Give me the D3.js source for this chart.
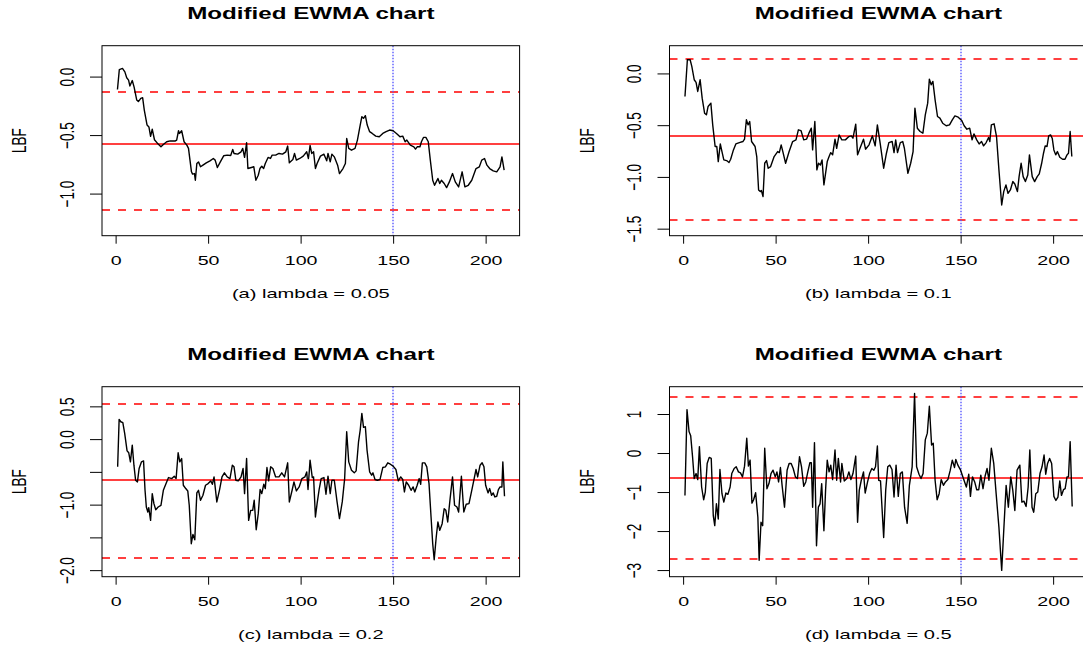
<!DOCTYPE html>
<html>
<head>
<meta charset="utf-8">
<script src="https://cdn.jsdelivr.net/npm/d3@7"></script>
<style>
  body { margin: 0; background: #fff; }
  svg { display: block; font-family: "Liberation Sans", Arial, Helvetica, sans-serif; }
</style>
</head>
<body>
<svg id="chart" width="1083" height="648"></svg>
<script>
// values: [t, LBF]
var lbfA = [[1,-0.11],[2,0.06],[3.7,0.07],[5,0.04],[6,-0.01],[7,-0.03],[7.7,-0.08],[9,-0.034],[10,-0.09],[11.4,-0.2],[12.3,-0.214],[13.6,-0.186],[14.6,-0.18],[15.5,-0.286],[17,-0.414],[18,-0.43],[18.9,-0.51],[19.8,-0.45],[21,-0.54],[23,-0.577],[24.5,-0.6],[25.8,-0.58],[27.6,-0.557],[29.5,-0.55],[32.3,-0.55],[33,-0.543],[34,-0.463],[34.5,-0.486],[35.7,-0.463],[37,-0.557],[38.5,-0.586],[39.4,-0.614],[40.2,-0.714],[41,-0.814],[41.6,-0.834],[42.6,-0.829],[43.1,-0.886],[43.9,-0.743],[44.8,-0.729],[45.9,-0.771],[47.2,-0.757],[49,-0.737],[51,-0.72],[52.8,-0.7],[53.8,-0.714],[55,-0.777],[56.6,-0.729],[58.4,-0.677],[60.3,-0.671],[62.2,-0.674],[63.3,-0.623],[64,-0.657],[66,-0.663],[67.8,-0.643],[68.7,-0.614],[69.7,-0.69],[70.8,-0.566],[71.5,-0.786],[73.4,-0.777],[74.7,-0.771],[75.8,-0.886],[77.1,-0.843],[78,-0.786],[79,-0.766],[80,-0.786],[80.9,-0.743],[82.4,-0.691],[83.7,-0.7],[84.6,-0.671],[86.5,-0.671],[88.3,-0.657],[90.2,-0.663],[92,-0.643],[93,-0.594],[93.9,-0.737],[95.8,-0.709],[96.7,-0.657],[97.7,-0.714],[99.5,-0.7],[101.4,-0.68],[103.3,-0.643],[104.2,-0.7],[105.1,-0.589],[106,-0.657],[107,-0.643],[108,-0.786],[108.9,-0.743],[110.7,-0.68],[112.6,-0.663],[114.1,-0.72],[114.8,-0.657],[116,-0.729],[116.9,-0.663],[118.2,-0.686],[120,-0.757],[121,-0.829],[122.9,-0.786],[124.2,-0.743],[124.9,-0.529],[126,-0.614],[127.5,-0.629],[129.4,-0.614],[130.7,-0.543],[132.2,-0.414],[133.1,-0.343],[134,-0.357],[135,-0.334],[136,-0.414],[137.3,-0.471],[138.7,-0.486],[140.6,-0.509],[142.5,-0.514],[144.4,-0.486],[146.2,-0.471],[148.1,-0.457],[150,-0.463],[151.8,-0.486],[153.7,-0.514],[155.2,-0.509],[156.5,-0.557],[157.4,-0.543],[159.3,-0.586],[161.2,-0.6],[162.1,-0.62],[163,-0.6],[164.5,-0.6],[165.3,-0.557],[166.4,-0.52],[167.7,-0.52],[169,-0.557],[170.1,-0.714],[171.4,-0.886],[172.4,-0.929],[173.3,-0.9],[174.2,-0.871],[175.2,-0.914],[176.1,-0.886],[177.6,-0.914],[178.9,-0.949],[180.4,-0.9],[182.1,-0.829],[183.6,-0.9],[185.4,-0.943],[187.3,-0.814],[188.8,-0.943],[190.6,-0.929],[192.5,-0.886],[194.8,-0.786],[196.6,-0.771],[197.9,-0.714],[199.4,-0.7],[200.7,-0.757],[202.2,-0.786],[204.1,-0.806],[206,-0.814],[207.8,-0.771],[208.8,-0.686],[210,-0.8]];

var lbfB = [[1,-0.223],[2.3,0.132],[3.8,0.132],[4.7,0.068],[6,-0.061],[7,-0.087],[7.9,-0.174],[9.2,-0.061],[10.3,-0.239],[11.6,-0.384],[12.6,-0.4],[13.5,-0.319],[15,-0.287],[16,-0.497],[17.3,-0.706],[18.2,-0.706],[19,-0.852],[20.1,-0.681],[21,-0.755],[22,-0.835],[23.5,-0.842],[24.8,-0.861],[25.7,-0.829],[27.2,-0.739],[28.5,-0.681],[30.4,-0.668],[32.3,-0.658],[33.2,-0.635],[34.2,-0.448],[35.1,-0.497],[36,-0.465],[37,-0.658],[38.9,-0.706],[39.8,-0.803],[40.8,-1.126],[41.7,-1.142],[42.3,-1.132],[43.2,-1.19],[44.1,-0.868],[45.1,-0.842],[46,-0.916],[47.3,-0.9],[49.2,-0.803],[51.1,-0.755],[52,-0.765],[53,-0.69],[53.9,-0.755],[55.4,-0.868],[57.3,-0.755],[59.2,-0.658],[61,-0.642],[62.3,-0.545],[63.7,-0.552],[65.2,-0.642],[66.7,-0.635],[68,-0.577],[69.3,-0.529],[70,-0.739],[71.2,-0.465],[72.3,-0.932],[73.2,-0.868],[74.2,-0.884],[75.1,-0.835],[76.1,-1.077],[77,-0.965],[77.9,-0.852],[78.9,-0.803],[79.8,-0.765],[80.8,-0.787],[82.1,-0.635],[83,-0.723],[84.3,-0.594],[85.8,-0.642],[87.7,-0.642],[89.6,-0.61],[90.9,-0.603],[91.8,-0.626],[93.3,-0.49],[94.3,-0.787],[95.6,-0.723],[97.5,-0.635],[98.6,-0.732],[100.5,-0.69],[102.3,-0.603],[103.8,-0.7],[105,-0.497],[106.5,-0.674],[108.4,-0.916],[109.9,-0.771],[111.2,-0.668],[113,-0.658],[114,-0.765],[114.9,-0.642],[115.9,-0.765],[117.4,-0.668],[118.7,-0.658],[119.6,-0.723],[121.5,-0.965],[123,-0.868],[124.3,-0.755],[125.3,-0.335],[126.6,-0.529],[128.1,-0.561],[129.6,-0.577],[130.9,-0.4],[132.2,-0.287],[133.1,-0.055],[134.1,-0.11],[135,-0.077],[136.2,-0.255],[137.5,-0.416],[138.8,-0.432],[140.3,-0.481],[142.2,-0.506],[144,-0.497],[145.5,-0.448],[146.9,-0.41],[148.7,-0.423],[150.6,-0.455],[151.9,-0.506],[153.4,-0.539],[154.9,-0.529],[156.2,-0.642],[157.2,-0.584],[158.7,-0.642],[160,-0.681],[161.3,-0.658],[162.4,-0.7],[163.8,-0.668],[165.1,-0.619],[165.8,-0.658],[166.6,-0.497],[168.1,-0.487],[169.4,-0.61],[170.7,-0.932],[172.2,-1.271],[173.3,-1.142],[174.5,-1.077],[175.6,-1.158],[176.9,-1.126],[178.2,-1.045],[179.3,-1.068],[180.7,-1.142],[181.6,-0.997],[182.7,-0.868],[183.8,-0.997],[185,-1.045],[186.3,-0.981],[187.2,-0.787],[188.7,-0.997],[190,-1.045],[191.4,-0.997],[192.5,-0.971],[193.8,-0.868],[194.8,-0.771],[195.7,-0.7],[196.7,-0.706],[197.6,-0.603],[198.6,-0.594],[199.5,-0.626],[200.4,-0.739],[201.4,-0.787],[202.3,-0.755],[203.6,-0.81],[205.1,-0.829],[206.4,-0.829],[207.5,-0.787],[208.3,-0.771],[209.2,-0.561],[210.1,-0.803]];

var lbfC = [[1.1,-0.423],[1.9,0.301],[2.8,0.265],[3.9,0.25],[4.9,0.087],[6.2,-0.179],[7.1,-0.209],[8,-0.347],[9,-0.092],[9.9,-0.398],[10.8,-0.628],[11.8,-0.653],[12.7,-0.449],[14,-0.347],[15.1,-0.332],[15.9,-0.781],[16.6,-1.036],[17.4,-1.112],[17.9,-1.046],[18.9,-1.24],[19.8,-0.832],[20.7,-0.985],[21.7,-1.077],[23,-1.036],[24.5,-1.01],[25.8,-0.781],[27.1,-0.689],[28.6,-0.587],[30.4,-0.602],[31.7,-0.566],[32.7,-0.602],[33.8,-0.209],[34.7,-0.347],[35.7,-0.296],[36.6,-0.704],[37.9,-0.755],[39,-0.791],[39.8,-1.01],[40.9,-1.597],[41.8,-1.454],[42.8,-1.536],[43.9,-0.821],[44.8,-0.781],[45.9,-0.934],[47.2,-0.857],[48.6,-0.704],[50,-0.679],[51.4,-0.638],[52.3,-0.689],[53.2,-0.577],[54.7,-0.959],[56.2,-0.77],[57.5,-0.577],[58.8,-0.515],[60.3,-0.577],[61.8,-0.602],[63.1,-0.398],[64,-0.423],[65,-0.628],[66.3,-0.638],[67.8,-0.577],[68.9,-0.449],[69.7,-0.832],[70.8,-0.296],[71.9,-1.24],[73,-1.087],[74.1,-1.087],[74.9,-0.934],[76,-1.383],[77.1,-1.138],[78.1,-0.77],[79,-0.832],[80.1,-0.689],[80.9,-0.755],[81.8,-0.434],[82.7,-0.638],[83.8,-0.423],[85,-0.449],[86.5,-0.577],[88.3,-0.577],[89.8,-0.515],[91.3,-0.577],[93,-0.362],[93.9,-0.959],[95.4,-0.781],[96.4,-0.653],[97.7,-0.791],[99.2,-0.73],[100.7,-0.602],[102.3,-0.577],[103.3,-0.5],[104,-0.77],[105.1,-0.321],[106.3,-0.587],[107,-0.577],[108,-1.189],[108.9,-0.985],[110,-0.77],[111.1,-0.602],[112.6,-0.587],[113.7,-0.842],[114.8,-0.566],[116,-0.832],[116.9,-0.628],[118.2,-0.628],[119.7,-0.959],[121,-1.214],[122.5,-0.959],[123.8,-0.602],[124.9,0.112],[126,-0.347],[127.5,-0.474],[129,-0.515],[130,-0.485],[131.3,-0.041],[132.2,0.138],[133.1,0.393],[134,0.179],[135,0.189],[135.9,-0.168],[137.3,-0.5],[138.4,-0.551],[139.1,-0.515],[140.2,-0.617],[141.5,-0.628],[142.9,-0.617],[144.4,-0.434],[145.8,-0.423],[147.1,-0.362],[148.5,-0.383],[150,-0.413],[151.5,-0.464],[152.8,-0.638],[154.1,-0.577],[155.2,-0.617],[156.1,-0.806],[157.1,-0.653],[158.4,-0.704],[159.7,-0.781],[160.8,-0.73],[161.7,-0.806],[163,-0.704],[164.1,-0.602],[164.9,-0.689],[165.8,-0.362],[167.1,-0.362],[168.2,-0.423],[169.4,-0.679],[170.5,-1.189],[171.4,-1.597],[172.2,-1.842],[173.3,-1.495],[174.2,-1.265],[175.2,-1.393],[176.5,-1.291],[177.6,-1.061],[178.5,-1.087],[179.5,-1.265],[180.8,-0.908],[182.1,-0.577],[183.2,-1.01],[184.5,-1.036],[185.4,-1.112],[186.9,-0.566],[188.2,-1.112],[189.5,-0.995],[191,-0.985],[192.5,-0.781],[193.8,-0.602],[194.8,-0.464],[195.7,-0.577],[197,-0.398],[198.1,-0.362],[199.1,-0.423],[200,-0.704],[201.3,-0.821],[202.2,-0.755],[203.2,-0.857],[204.1,-0.821],[205,-0.883],[206,-0.872],[206.9,-0.77],[207.8,-0.73],[208.8,-0.73],[209.3,-0.347],[210.2,-0.872]];

var lbfD = [[1,-1.086],[2.1,1.112],[3.2,0.552],[4.1,0.44],[5.1,-0.095],[6,-0.655],[7,-0.526],[7.9,-0.681],[8.8,0.164],[10,-0.871],[11.1,-1.198],[12,-1.0],[13,-0.267],[14.1,-0.112],[15.2,-0.138],[16.3,-1.603],[17.1,-1.862],[18,-1.302],[19,-1.69],[19.9,-0.422],[21,-1.043],[22,-1.259],[23.1,-1.026],[24.2,-1.06],[25.4,-0.871],[26.3,-0.526],[27.6,-0.397],[28.7,-0.353],[29.9,-0.483],[31,-0.509],[32.1,-0.612],[33.2,-0.336],[34.4,0.379],[35.3,-0.336],[36.2,-0.181],[37.2,-1.284],[38.1,-1.198],[39.2,-1.017],[40.4,-1.647],[41.1,-2.75],[42.1,-1.776],[43,-1.862],[44.1,0.121],[45.3,-0.914],[46.4,-0.784],[47.5,-0.526],[48.6,-0.44],[49.8,-0.612],[50.7,-0.483],[51.6,-0.741],[52.6,-0.371],[53.5,-0.828],[54.8,-1.388],[56.2,-0.44],[57.3,-0.267],[58.4,-0.267],[59.5,-0.397],[60.7,-0.612],[61.8,-0.655],[62.9,-0.095],[64,-0.353],[65.2,-0.853],[66.3,-0.741],[67.4,-0.483],[68.5,-0.25],[69.3,-0.25],[70,-1.388],[71,0.267],[72.1,-2.379],[73.1,-1.388],[74,-1.302],[74.9,-0.784],[76.1,-1.991],[77,-0.957],[77.9,-0.181],[78.9,-0.483],[79.8,-0.31],[80.8,-0.681],[82.1,0.078],[83,-0.698],[83.9,-0.138],[85.1,-0.741],[85.8,-0.267],[87.1,-0.716],[88.5,-0.655],[89.6,-0.483],[90.7,-0.681],[91.8,-0.526],[93.3,-0.078],[94.3,-1.776],[95.2,-0.957],[96.3,-0.698],[97.5,-0.483],[98.4,-1.026],[99.7,-0.741],[100.8,-0.526],[102,-0.397],[103.1,-0.44],[104,-0.353],[105,0.181],[105.7,-0.698],[106.7,-0.716],[108.4,-2.164],[109.5,-0.957],[110.6,-0.353],[111.7,-0.31],[112.9,-0.422],[114,-1.129],[115.1,-0.31],[116.3,-1.112],[117.4,-0.526],[118.5,-0.483],[119.7,-1.388],[121.1,-1.802],[122.3,-0.828],[123.8,-0.353],[125.1,1.526],[126.2,-0.353],[127.5,-0.543],[128.6,-0.655],[129.7,-0.526],[130.9,0.336],[132,0.509],[133.1,1.198],[134.3,0.207],[135.2,0.25],[136.2,-0.698],[137.3,-1.198],[138.4,-1.043],[139.5,-0.681],[140.7,-0.828],[141.8,-0.741],[143.1,-0.681],[144.4,-0.44],[145.5,-0.181],[146.7,-0.371],[147.4,-0.164],[148.5,-0.31],[150,-0.44],[151.5,-0.655],[153.1,-0.871],[154.4,-0.543],[155.3,-1.112],[156.4,-0.612],[157.6,-0.741],[158.7,-0.94],[159.8,-0.94],[160.9,-0.569],[162.1,-0.914],[163.2,-0.595],[164.3,-0.397],[165.3,-0.698],[166.6,0.121],[167.9,-0.267],[169.2,-1.043],[170.7,-1.905],[172.2,-3.009],[173.3,-1.991],[174.6,-0.828],[175.8,-1.388],[177.1,-0.612],[178.2,-0.957],[179.3,-1.474],[180.5,-0.44],[182,-0.31],[183.1,-1.259],[184.2,-1.233],[185.4,-1.371],[186.5,-0.871],[187.4,0.078],[188.6,-1.388],[189.5,-1.517],[190.6,-1.043],[191.7,-1.0],[192.9,-0.526],[194,-0.353],[195.1,-0.052],[196,-0.543],[197,-0.267],[198.1,-0.138],[199.2,-0.267],[200.4,-1.112],[201.5,-1.216],[202.6,-1.129],[203.6,-0.716],[204.5,-1.086],[205.6,-0.94],[206.5,-0.914],[207.5,-0.612],[208.3,-0.612],[209.2,0.293],[210.3,-1.371]];

// control limits [UCL, CL, LCL]
var limitsA = [-0.132, -0.579, -1.140];
var limitsB = [0.136, -0.609, -1.413];
var limitsC = [0.541, -0.629, -1.814];
var limitsD = [1.43, -0.63, -2.71];

var yDomains = [[-1.36, 0.264], [-1.568, 0.268], [-2.10, 0.80], [-3.17, 1.70]];
var yTicks = [[0, -0.5, -1], [0, -0.5, -1, -1.5], [0.5, 0, -0.5, -1, -1.5, -2], [1, 0, -1, -2, -3]];
var yLabelled = [[0, -0.5, -1], [0, -0.5, -1, -1.5], [0.5, 0, -1, -2], [1, 0, -1, -2, -3]];
var yDigits = [1, 1, 1, 0];
var xTicks = [0, 50, 100, 150, 200];
var changePoint = 150;
var captions = ["(a) lambda = 0.05", "(b) lambda = 0.1", "(c) lambda = 0.2", "(d) lambda = 0.5"];
var titleText = "Modified EWMA chart";

var svg = d3.select("#chart");
var stretch = 1.51;   // the text in the original is drawn wide
var plotW = 417.6, plotH = 190;
var origins = [[102, 45.7], [669.5, 45.7], [102, 386.7], [669.5, 386.7]];
var series = [lbfA, lbfB, lbfC, lbfD];
var limits = [limitsA, limitsB, limitsC, limitsD];

function wideText(g, x, y, txt, size, weight) {
  g.append("text")
    .attr("transform", "translate(" + x + "," + y + ") scale(" + stretch + ",1)")
    .attr("text-anchor", "middle")
    .style("font-size", size + "px")
    .style("font-weight", weight || "normal")
    .text(txt);
}

function minusFmt(d, digits) {
  var s = d3.format("." + digits + "f")(Math.abs(d));
  return (d < 0 ? "\u2212" : "") + s;
}

series.forEach(function(data, i) {
  var ox = origins[i][0], oy = origins[i][1];
  var g = svg.append("g").attr("transform", "translate(" + ox + "," + oy + ")");

  var x = d3.scaleLinear().domain([-7.36, 218.36]).range([0, plotW]);
  var y = d3.scaleLinear().domain(yDomains[i]).range([plotH, 0]);

  g.append("clipPath").attr("id", "clip" + i)
    .append("rect").attr("width", plotW).attr("height", plotH);
  var inner = g.append("g").attr("clip-path", "url(#clip" + i + ")");

  // control limits
  var lim = limits[i];
  inner.selectAll("line.lim")
    .data(lim)
    .enter().append("line")
    .attr("class", "lim")
    .attr("x1", 0).attr("x2", plotW)
    .attr("y1", function(d) { return Math.round(oy + y(d)) - oy; })
    .attr("y2", function(d) { return Math.round(oy + y(d)) - oy; })
    .attr("stroke", "#ff0000")
    .attr("stroke-width", 1.5)
    .attr("stroke-dasharray", function(d, j) { return j == 1 ? null : "8,8"; });

  // change point marker
  var cx = Math.round(ox + x(changePoint)) - ox;
  inner.append("line")
    .attr("x1", cx).attr("x2", cx)
    .attr("y1", 0).attr("y2", plotH)
    .attr("stroke", "#5a5aff")
    .attr("stroke-width", 1.4)
    .attr("stroke-dasharray", "1.5,1.5");

  var line = d3.line()
    .x(function(d) { return x(d[0]); })
    .y(function(d) { return y(d[1]); });

  inner.append("path")
    .datum(data)
    .attr("d", line)
    .attr("fill", "none")
    .attr("stroke", "#000")
    .attr("stroke-width", 1.4)
    .attr("stroke-linejoin", "round");

  g.append("rect")
    .attr("width", plotW).attr("height", plotH)
    .attr("fill", "none").attr("stroke", "#000").attr("stroke-width", 1);

  // y axis
  var lab = yLabelled[i];
  var ya = g.append("g")
    .call(d3.axisLeft(y).tickValues(yTicks[i]).tickSize(12)
      .tickFormat(function(d) { return lab.indexOf(d) >= 0 ? minusFmt(d, yDigits[i]) : ""; }));
  ya.select(".domain").remove();
  ya.selectAll(".tick line").attr("stroke", "#000");
  ya.selectAll(".tick text")
    .attr("x", null).attr("dy", null)
    .attr("transform", "translate(-28.5,0) scale(" + stretch + ",1) rotate(-90)")
    .attr("text-anchor", "middle")
    .attr("fill", "#000")
    .style("font-size", "13.5px")
    .style("font-family", "Liberation Sans, Arial, sans-serif");

  // x axis
  var xa = g.append("g")
    .attr("transform", "translate(0," + plotH + ")")
    .call(d3.axisBottom(x).tickValues(xTicks).tickSize(8));
  xa.select(".domain").remove();
  xa.selectAll(".tick line").attr("stroke", "#000");
  xa.selectAll(".tick text")
    .attr("y", null).attr("dy", null)
    .attr("transform", "translate(0,29.3) scale(" + stretch + ",1)")
    .attr("fill", "#000")
    .style("font-size", "13px")
    .style("font-family", "Liberation Sans, Arial, sans-serif");

  // LBF label
  g.append("text")
    .attr("transform", "translate(-76," + (plotH / 2) + ") scale(" + stretch + ",1) rotate(-90)")
    .attr("text-anchor", "middle")
    .style("font-size", "13.5px")
    .text("LBF");

  wideText(g, plotW / 2, -27, titleText, 16, "bold");
  wideText(g, plotW / 2, plotH + 62.6, captions[i], 13.3);
});
</script>
</body>
</html>
